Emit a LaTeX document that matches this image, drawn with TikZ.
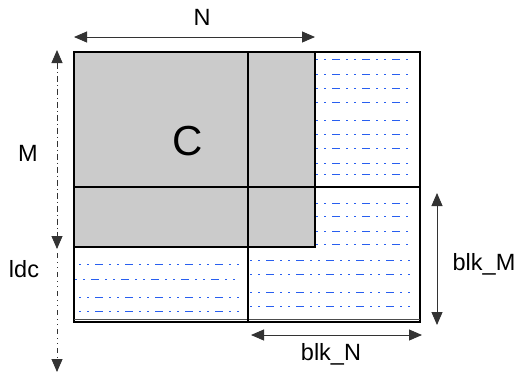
\documentclass[tikz,border=0pt]{standalone}
\usepackage{fontspec}
\setmainfont{Liberation Sans}
\usetikzlibrary{arrows.meta}
\definecolor{patblue}{RGB}{40,95,240}
\definecolor{cgray}{RGB}{203,203,203}
\begin{document}
\begin{tikzpicture}[x=1pt,y=-1pt,
  lbl/.style={font=\fontsize{23.5}{23.5}\selectfont, inner sep=0pt},
  dimarrow/.style={{Triangle[length=13pt,width=11pt]}-{Triangle[length=13pt,width=11pt]}, line width=0.9pt, draw=black!80},
  pat/.style={draw=patblue, line width=0.9pt, dash pattern=on 1.5pt off 6.5pt on 1.5pt off 6.5pt on 8pt off 6pt},
  boxline/.style={draw=black, line width=1.2pt},
  dashdim/.style={line width=0.9pt, draw=black!80, dash pattern=on 6pt off 3pt on 1pt off 3pt}]
\useasboundingbox (0,0) rectangle (519,373);
% gray block
\fill[cgray] (74,52) rectangle (315,247);
% patterns
\foreach \y in {59,74,88,102,120,134,148,163,174,203,216,231,244}
  \draw[pat] (316,\y) -- (410,\y);
\foreach \y in {260,274,292,306}
  \draw[pat] (250,\y) -- (416,\y);
\foreach \y in {264,297,311}
  \draw[pat] (79,\y) -- (244,\y);
\draw[pat] (75,279) -- (240,279);
% box lines
\draw[boxline] (74,52) rectangle (315,247);
\draw[boxline] (74,52) rectangle (420,322);
\draw[draw=black!70, line width=0.8pt] (74,319.5) -- (420,319.5);
\draw[boxline] (248,52) -- (248,322);
\draw[boxline] (74,187) -- (420,187);
% N arrow
\coordinate (nL) at (74,37); \coordinate (nR) at (315,37);
\draw[dimarrow] (nL) -- (nR);
\node[lbl] (N) at (202,17) {N};
% M arrow
\coordinate (mT) at (57,50); \coordinate (mB) at (57,249);
\draw[dashdim, {Triangle[length=13pt,width=11pt]}-{Triangle[length=13pt,width=11pt]}] (mT) -- (mB);
\node[lbl] (M) at (28,153) {M};
% ldc arrow
\coordinate (lT) at (57,253); \coordinate (lB) at (57,372);
\draw[line width=0.9pt, draw=black!80, dash pattern=on 5pt off 4pt on 1pt off 4pt on 1pt off 4pt, -{Triangle[length=13pt,width=11pt]}] (lT) -- (lB);
\node[lbl] (ldc) at (24,269) {ldc};
% blk_M arrow
\coordinate (bmT) at (437,193); \coordinate (bmB) at (437,325);
\draw[dimarrow] (bmT) -- (bmB);
\node[lbl] (blkM) at (484,264) {blk\_M};
% blk_N arrow
\coordinate (bnL) at (251,335); \coordinate (bnR) at (422,335);
\draw[dimarrow] (bnL) -- (bnR);
\node[lbl] (blkN) at (331,354) {blk\_N};
% C
\node[font=\fontsize{42}{42}\selectfont, inner sep=0pt] (C) at (188,141) {C};
\end{tikzpicture}
\end{document}
